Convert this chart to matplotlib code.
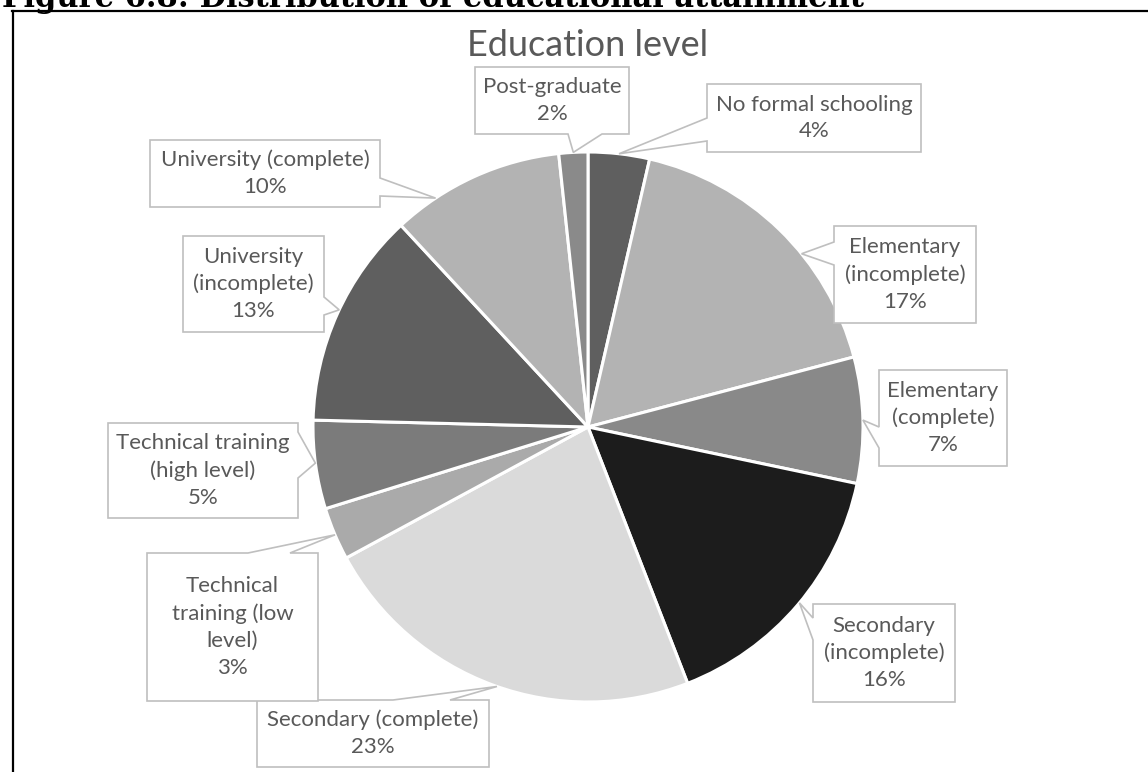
import matplotlib
matplotlib.use("Agg")
import matplotlib.pyplot as plt
from matplotlib.patches import Polygon
from matplotlib.lines import Line2D
import numpy as np

# ---- data -------------------------------------------------------------
categories = [
    "No formal schooling",
    "Elementary\n(incomplete)",
    "Elementary\n(complete)",
    "Secondary\n(incomplete)",
    "Secondary (complete)",
    "Technical\ntraining (low\nlevel)",
    "Technical training\n(high level)",
    "University\n(incomplete)",
    "University (complete)",
    "Post-graduate",
]
shares = [3.6, 17.3, 7.4, 15.8, 23.0, 3.1, 5.2, 12.7, 10.2, 1.7]
slice_colors = ["#5f5f5f", "#b3b3b3", "#898989", "#1c1c1c", "#dadada",
                "#aaaaaa", "#7b7b7b", "#5f5f5f", "#b3b3b3", "#8a8a8a"]

chart_title = "Education level"
caption = "Figure 6.8: Distribution of educational attainment"

# ---- callout layout (pixel space, y measured from top) -----------------
# box (x0, y0, x1, y1), side carrying the pointer, pointer base span,
# and where along the slice (clockwise fraction) the pointer lands
callouts = [
    ((707, 84, 921, 152), "left", (118, 141), 0.50),
    ((834, 226, 976, 323), "left", (242, 265), 0.61),
    ((879, 370, 1007, 466), "left", (427, 448), 0.50),
    ((813, 604, 955, 702), "left", (618, 640), 0.49),
    ((257, 700, 489, 767), "top", (393, 450), 0.49),
    ((147, 553, 318, 701), "top", (248, 290), 0.48),
    ((108, 423, 298, 518), "right", (432, 478), 0.52),
    ((183, 236, 324, 332), "right", (297, 315), 0.52),
    ((150, 140, 380, 207), "right", (178, 196), 0.25),
    ((475, 67, 629, 134), "bottom", (568, 602), 0.50),
]

W, H = 1148, 772
CX, CY, R = 588, 427, 275

fig = plt.figure(figsize=(W / 100, H / 100), dpi=100)
fig.patch.set_facecolor("white")
ax = fig.add_axes([0, 0, 1, 1])

wedges, _ = ax.pie(shares, colors=slice_colors, startangle=90,
                   counterclock=False, center=(CX, H - CY), radius=R,
                   wedgeprops=dict(edgecolor="white", linewidth=2.2))
ax.set_xlim(0, W)
ax.set_ylim(0, H)
ax.set_aspect("auto")
ax.axis("off")

TEXT_COLOR = "#595959"
FONT = "Lato"


def callout_path(box, side, base, tip):
    x0, y0, x1, y1 = box
    a, b = sorted(base)
    pts = [(x0, y0)]
    if side == "top":
        pts += [(a, y0), tip, (b, y0)]
    pts.append((x1, y0))
    if side == "right":
        pts += [(x1, a), tip, (x1, b)]
    pts.append((x1, y1))
    if side == "bottom":
        pts += [(b, y1), tip, (a, y1)]
    pts.append((x0, y1))
    if side == "left":
        pts += [(x0, b), tip, (x0, a)]
    return [(px, H - py) for px, py in pts]


total = sum(shares)
for w, name, val, (box, side, base, t) in zip(wedges, categories, shares, callouts):
    ang = np.deg2rad(w.theta2 - t * (w.theta2 - w.theta1))
    cx, cy = w.center
    tip = (cx + w.r * np.cos(ang), H - (cy + w.r * np.sin(ang)))
    poly = Polygon(callout_path(box, side, base, tip), closed=True,
                   facecolor="white", edgecolor="#bfbfbf", linewidth=1.2,
                   zorder=5)
    ax.add_patch(poly)
    pct = f"{round(val / total * 100):.0f}%"
    x0, y0, x1, y1 = box
    ax.text((x0 + x1) / 2, H - (y0 + y1) / 2, f"{name}\n{pct}",
            ha="center", va="center", multialignment="center",
            fontsize=16, color=TEXT_COLOR, family=FONT, linespacing=1.42,
            zorder=6)

ax.text(CX, H - 46, chart_title, ha="center", va="center",
        fontsize=26, color=TEXT_COLOR, family=FONT)

# caption above the chart frame
fig.text(2 / W, 1 - 7 / H, caption, ha="left", va="baseline",
         fontsize=22, fontweight="bold", family="DejaVu Serif", color="black")

# chart frame (top and left edges)
fig.add_artist(Line2D([12 / W, 1.0], [1 - 10.5 / H, 1 - 10.5 / H],
                      color="black", linewidth=1.6))
fig.add_artist(Line2D([12.5 / W, 12.5 / W], [0, 1 - 10.5 / H],
                      color="black", linewidth=1.6))

fig.savefig("out.png", dpi=100, facecolor="white")
